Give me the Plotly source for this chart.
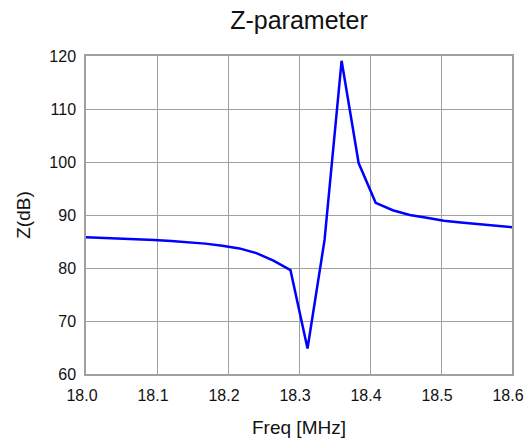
import plotly.graph_objects as go

freq_mhz = [18.000, 18.024, 18.048, 18.072, 18.096, 18.120, 18.144, 18.168, 18.192,
            18.216, 18.240, 18.264, 18.288, 18.312, 18.336, 18.360, 18.384, 18.408,
            18.432, 18.456, 18.480, 18.504, 18.528, 18.552, 18.576, 18.600]
z_db = [85.8, 85.7, 85.6, 85.45, 85.3, 85.1, 84.9, 84.6, 84.2,
        83.7, 82.8, 81.4, 79.6, 64.8, 85.3, 119.1, 99.8, 92.3,
        90.9, 90.0, 89.5, 88.9, 88.6, 88.3, 88.0, 87.7]

x_ticks = [18.0, 18.1, 18.2, 18.3, 18.4, 18.5, 18.6]
x_tick_labels = ["18.0", "18.1", "18.2", "18.3", "18.4", "18.5", "18.6"]
y_ticks = [60, 70, 80, 90, 100, 110, 120]

FONT = "Liberation Sans, Arial, sans-serif"
GRID = "#a0a0a0"

fig = go.Figure()
fig.add_trace(go.Scatter(x=freq_mhz, y=z_db, mode="lines",
                         line=dict(color="#0000ff", width=2.5), showlegend=False))

fig.update_layout(
    width=525, height=440,
    margin=dict(l=86, r=13, t=56, b=66, autoexpand=False),
    paper_bgcolor="white", plot_bgcolor="white",
    font=dict(family=FONT, color="#111111", size=16),
    title=dict(text="Z-parameter", x=0.5, xref="paper", xanchor="center",
               y=1 - 20 / 440, yref="container", yanchor="middle",
               font=dict(size=25, family=FONT, color="#111111")),
)
fig.update_xaxes(
    range=[18.0, 18.6000001], tickvals=x_ticks, ticktext=x_tick_labels,
    showgrid=True, gridcolor=GRID, gridwidth=1,
    showline=True, linecolor=GRID, linewidth=1.5, mirror=True,
    ticks="outside", ticklen=6, tickcolor="rgba(0,0,0,0)",
    ticklabeloverflow="allow", ticklabelshift=-4,
    zeroline=False, automargin=False,
    title=dict(text="Freq [MHz]", font=dict(size=19, family=FONT), standoff=18),
    tickfont=dict(size=16, family=FONT),
)
fig.update_yaxes(
    range=[60, 120], tickvals=y_ticks,
    showgrid=True, gridcolor=GRID, gridwidth=1,
    showline=True, linecolor=GRID, linewidth=1.5, mirror=True,
    ticks="outside", ticklen=5, tickcolor="rgba(0,0,0,0)",
    ticklabeloverflow="allow",
    zeroline=False, automargin=False,
    title=dict(text="Z(dB)", font=dict(size=19, family=FONT), standoff=14),
    tickfont=dict(size=16, family=FONT),
)

fig.write_html("out.html")
